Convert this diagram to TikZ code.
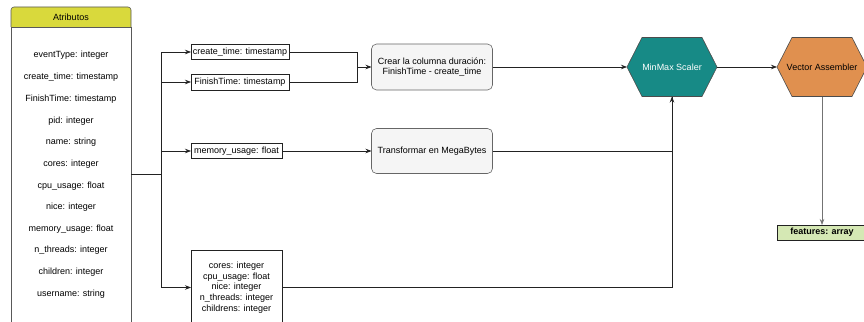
\documentclass[tikz,border=0pt]{standalone}
\usepackage{fontspec}
\setmainfont{Liberation Sans}
\usetikzlibrary{arrows.meta}
\definecolor{hdr}{HTML}{D9D93C}
\definecolor{tealc}{HTML}{178A86}
\definecolor{orangec}{HTML}{E0904F}
\definecolor{greenc}{HTML}{D5E8B4}
\definecolor{procfill}{HTML}{F5F5F5}
\definecolor{linec}{HTML}{222222}
\begin{document}
\begin{tikzpicture}[x=1pt,y=-1pt,
  font=\fontsize{9}{10.7}\selectfont,
  every node/.style={outer sep=0pt, inner sep=1pt},
  box/.style={draw=linec, fill=white, line width=0.6pt, minimum height=15pt},
  proc/.style={draw=black!60, fill=procfill, rounded corners=5pt, line width=0.6pt, align=center},
  attrtext/.style={text=black},
  hexnode/.style={minimum width=90pt, minimum height=59pt},
  ln/.style={draw=linec, line width=0.7pt},
  arr/.style={ln, -{Stealth[length=6pt,width=4.5pt]}}]
\clip (0,0) rectangle (864,321);
% Atributos container
\draw[draw=black!65, fill=hdr, line width=0.6pt, rounded corners=3pt] (11,27) -- (11,7) -- (131,7) -- (131,27);
\draw[draw=black!65, line width=0.6pt] (11,27) -- (131,27);
\node[font=\fontsize{9}{10}\selectfont] (hd) at (71,17) {Atributos};
\node[draw=black!65, line width=0.6pt, minimum width=120pt, minimum height=303pt, anchor=north west] (attr) at (11,27) {};
\node[attrtext] (a1) at (71,55) {eventType: integer};
\node[attrtext] (a2) at (71,77) {create\_time: timestamp};
\node[attrtext] (a3) at (71,99) {FinishTime: timestamp};
\node[attrtext] (a4) at (71,121) {pid: integer};
\node[attrtext] (a5) at (71,142) {name: string};
\node[attrtext] (a6) at (71,164) {cores: integer};
\node[attrtext] (a7) at (71,186) {cpu\_usage: float};
\node[attrtext] (a8) at (71,207) {nice: integer};
\node[attrtext] (a9) at (71,229) {memory\_usage: float};
\node[attrtext] (a10) at (71,250) {n\_threads: integer};
\node[attrtext] (a11) at (71,272) {children: integer};
\node[attrtext] (a12) at (71,294) {username: string};
% field boxes
\node[box, minimum width=98pt] (ct) at (240,52) {create\_time: timestamp};
\node[box, minimum width=98pt, minimum height=16pt] (ft) at (240,82) {FinishTime: timestamp};
\node[box, minimum width=91pt] (mu) at (236.5,151) {memory\_usage: float};
\node[box, minimum width=91pt, minimum height=75pt, align=center] (co) at (236.5,287.5) {cores: integer\\cpu\_usage: float\\nice: integer\\n\_threads: integer\\childrens: integer};
% process boxes
\node[proc, minimum width=121pt, minimum height=46pt] (crear) at (432,67) {Crear la columna duración:\\FinishTime - create\_time};
\node[proc, minimum width=121pt, minimum height=45pt] (transf) at (432,151) {Transformar en MegaBytes};
% hexagons
\fill[tealc] (627,67) -- (642,37.5) -- (702,37.5) -- (717,67) -- (702,96.5) -- (642,96.5) -- cycle;
\draw[black!70, line width=0.6pt] (627,67) -- (642,37.5) -- (702,37.5) -- (717,67) -- (702,96.5) -- (642,96.5) -- cycle;
\node[hexnode, text=white] (mm) at (672,67) {MinMax Scaler};
\fill[orangec] (777,67) -- (792,37.5) -- (852,37.5) -- (867,67) -- (852,96.5) -- (792,96.5) -- cycle;
\draw[black!70, line width=0.6pt] (777,67) -- (792,37.5) -- (852,37.5) -- (867,67) -- (852,96.5) -- (792,96.5) -- cycle;
\node[hexnode] (va) at (822,67) {Vector Assembler};
% features
\node[draw=linec, fill=greenc, line width=0.6pt, minimum width=90pt, minimum height=15pt, font=\fontsize{9}{10}\selectfont\bfseries] (feat) at (822,232.5) {features: array};
% connectors
\coordinate (sp) at (161,174);
\coordinate (j1) at (357,67);
\draw[ln] (attr.east |- sp) -- (sp);
\draw[arr] (sp) |- (ct.west);
\draw[arr] (sp) |- (ft.west);
\draw[arr] (sp) |- (mu.west);
\draw[arr] (sp) |- (co.west);
\draw[ln] (ct.east) -| (j1);
\draw[ln] (ft.east) -| (j1);
\draw[arr] (j1) -- (crear.west);
\draw[arr] (mu.east) -- (transf.west);
\draw[arr] (crear.east) -- (mm.west);
\draw[ln] (co.east) -| (mm.south);
\draw[arr] (transf.east) -| (mm.south);
\draw[arr] (mm.east) -- (va.west);
\draw[arr, draw=black!55] (va.south) -- (feat.north);
\end{tikzpicture}
\end{document}
